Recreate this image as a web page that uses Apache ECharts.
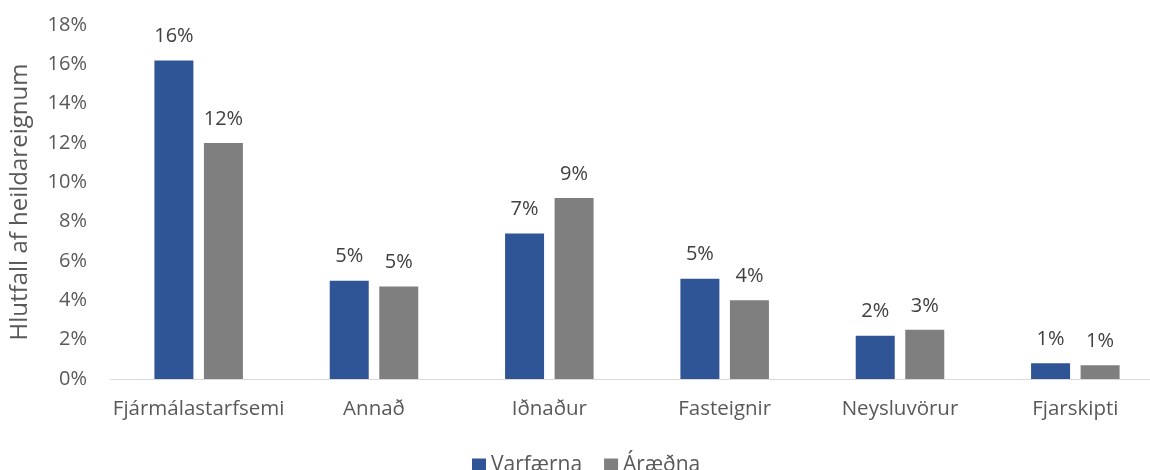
<!DOCTYPE html>
<html><head><meta charset="utf-8">
<script src="https://cdn.jsdelivr.net/npm/echarts@6/dist/echarts.min.js"></script>
<style>html,body{margin:0;padding:0;background:#fff;overflow:hidden;width:1150px;height:470px}#c{width:1170px;height:470px}</style>
</head><body><div id="c"></div>
<script>
const categories = ['Fjármálastarfsemi','Annað','Iðnaður','Fasteignir','Neysluvörur','Fjarskipti'];
const varfaerna = [16.2, 5.0, 7.4, 5.1, 2.2, 0.8];
const araedna = [12.0, 4.7, 9.2, 4.0, 2.5, 0.7];
const seriesNames = ['Varfærna','Áræðna'];
const yTicks = [0,2,4,6,8,10,12,14,16,18];

const FONT = 'Open Sans';
const chart = echarts.init(document.getElementById('c'));
const lbl = {show:true, position:'top', distance:14, color:'#404040', fontSize:20, fontFamily:FONT,
  formatter: p => Math.round(p.value) + '%'};
chart.setOption({
  animation:false,
  textStyle:{fontFamily:FONT},
  grid:{left:108, width:1055, top:25, height:354, containLabel:false},
  legend:{data:seriesNames, top:455, left:472, padding:0, itemWidth:14, itemHeight:14, itemGap:22,
    icon:'rect', textStyle:{fontSize:21, color:'#595959', fontFamily:FONT}},
  xAxis:{type:'category', data:categories,
    axisLine:{lineStyle:{color:'#D9D9D9', width:1}}, axisTick:{show:false},
    axisLabel:{interval:0, fontSize:20.5, color:'#595959', margin:20, fontFamily:FONT}},
  yAxis:{type:'value', min:yTicks[0], max:yTicks[yTicks.length-1], interval:2,
    name:'Hlutfall af heildareignum', nameLocation:'middle', nameGap:79, nameRotate:90,
    nameTextStyle:{fontSize:24, color:'#595959', fontFamily:FONT},
    axisLine:{show:false}, axisTick:{show:false}, splitLine:{show:false},
    axisLabel:{formatter:'{value}%', fontSize:20, color:'#595959', margin:24, fontFamily:FONT}},
  series:[
    {name:seriesNames[0], type:'bar', data:varfaerna, barWidth:39, barGap:'27%',
      itemStyle:{color:'#2F5597'}, label:lbl},
    {name:seriesNames[1], type:'bar', data:araedna, barWidth:39,
      itemStyle:{color:'#7F7F7F'}, label:lbl}
  ]
});
</script></body></html>
